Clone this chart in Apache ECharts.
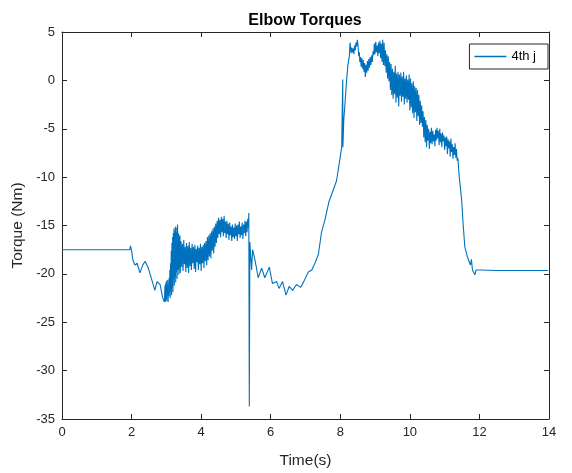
<!DOCTYPE html>
<html>
<head>
<meta charset="utf-8">
<script src="https://cdn.jsdelivr.net/npm/echarts@6/dist/echarts.min.js"></script>
<style>
  html, body { margin: 0; padding: 0; background: #fff; }
  #chart { width: 572px; height: 473px; }
</style>
</head>
<body>
<div id="chart"></div>
<script>
// Elbow joint torque (4th joint) over time, [time s, torque Nm]
const holdStart = [[0, -17.5], [0.5, -17.5], [1.0, -17.5], [1.5, -17.5], [1.95, -17.5]];

const firstDip = [
  [1.97, -17.1], [2.0, -17.6], [2.04, -18.6], [2.10, -19.1], [2.16, -18.9], [2.24, -19.9],
  [2.32, -19.1], [2.39, -18.7], [2.48, -19.4], [2.58, -20.6], [2.67, -21.7], [2.73, -20.8],
  [2.82, -21.1], [2.89, -22.4], [2.94, -22.9]
];

const firstLift = [
  [2.95, -22.4], [2.96, -21.2], [2.97, -22.9], [2.98, -21.0], [2.99, -22.6], [3.00, -20.7],
  [3.01, -22.8], [3.02, -21.3], [3.03, -22.1], [3.04, -20.6], [3.05, -22.9], [3.06, -21.5],
  [3.07, -22.3], [3.08, -20.4], [3.09, -22.0], [3.10, -19.6], [3.11, -22.5], [3.12, -18.9],
  [3.13, -21.8], [3.14, -17.6], [3.15, -22.2], [3.16, -16.8], [3.17, -21.4], [3.18, -16.2],
  [3.19, -21.9], [3.20, -15.8], [3.21, -20.6], [3.22, -15.3], [3.23, -21.2], [3.24, -15.6],
  [3.25, -20.3], [3.26, -15.1], [3.27, -20.9], [3.28, -15.7], [3.29, -19.8], [3.30, -15.2],
  [3.31, -20.5], [3.32, -14.9], [3.33, -14.7], [3.34, -19.6], [3.35, -15.8], [3.36, -20.1],
  [3.37, -16.2], [3.38, -19.4], [3.39, -16.0], [3.40, -19.9], [3.42, -16.6], [3.44, -19.3],
  [3.46, -16.9], [3.48, -19.7], [3.50, -16.5], [3.52, -19.0], [3.54, -17.2], [3.56, -19.8],
  [3.58, -16.8], [3.60, -19.4], [3.62, -17.1], [3.64, -19.9], [3.66, -16.7], [3.68, -19.2],
  [3.70, -17.3], [3.72, -19.6], [3.74, -16.9], [3.76, -18.9], [3.78, -17.2], [3.80, -19.5],
  [3.82, -17.0], [3.84, -19.8], [3.86, -17.4], [3.88, -18.8], [3.90, -17.1], [3.92, -19.6],
  [3.94, -17.3], [3.96, -19.0], [3.98, -16.9], [4.00, -19.7], [4.02, -17.2], [4.04, -18.9],
  [4.06, -17.0], [4.08, -19.4], [4.10, -16.8], [4.12, -18.7], [4.14, -16.6], [4.16, -19.1],
  [4.18, -16.2], [4.20, -18.6], [4.22, -16.0], [4.24, -18.2], [4.26, -15.8], [4.28, -18.4],
  [4.30, -15.6], [4.32, -17.6], [4.34, -15.3], [4.36, -17.9], [4.38, -15.1], [4.40, -17.2],
  [4.42, -14.8], [4.44, -16.8], [4.46, -14.5], [4.48, -16.3], [4.50, -14.2], [4.52, -15.9],
  [4.54, -14.4], [4.56, -16.2], [4.58, -14.1], [4.60, -15.7], [4.62, -14.3], [4.64, -16.1],
  [4.66, -14.0], [4.68, -15.8], [4.70, -14.6], [4.72, -16.3], [4.74, -14.5], [4.76, -15.9],
  [4.78, -14.8], [4.80, -16.5], [4.82, -14.7], [4.84, -16.0], [4.86, -15.1], [4.88, -16.6],
  [4.90, -14.9], [4.92, -16.2], [4.94, -15.2], [4.96, -16.4], [4.98, -14.8], [5.00, -16.1],
  [5.02, -15.0], [5.04, -16.6], [5.06, -14.9], [5.08, -15.9], [5.10, -14.6], [5.12, -16.3],
  [5.14, -15.1], [5.16, -16.0], [5.18, -14.7], [5.20, -16.4], [5.22, -14.9], [5.24, -15.8],
  [5.26, -14.5], [5.28, -16.1], [5.30, -14.6], [5.32, -15.7], [5.34, -14.3], [5.36, -15.2],
  [5.37, -13.7]
];

const impactSpike = [[5.385, -33.7], [5.40, -16.7]];

const recovery = [
  [5.45, -19.6], [5.48, -17.5], [5.55, -18.6], [5.64, -20.4], [5.74, -19.4], [5.83, -20.4],
  [5.96, -19.3], [6.05, -21.0], [6.17, -20.8], [6.24, -21.5], [6.34, -20.8], [6.44, -22.2],
  [6.53, -21.3], [6.63, -21.7], [6.74, -21.1], [6.86, -21.4], [6.95, -20.8], [7.08, -19.8],
  [7.18, -19.6], [7.27, -18.9], [7.37, -18.0], [7.46, -15.7], [7.56, -14.4], [7.67, -12.6],
  [7.80, -11.3], [7.89, -10.4], [7.94, -9.3], [8.04, -6.9]
];

const secondLift = [
  [8.07, 0.1], [8.075, -6.9], [8.10, -4.1], [8.13, -2.7], [8.18, 0.0], [8.22, 1.6],
  [8.26, 2.5], [8.28, 3.9], [8.30, 3.3], [8.31, 2.8], [8.33, 3.4], [8.35, 2.9],
  [8.37, 3.3], [8.39, 2.7], [8.41, 3.6], [8.43, 3.1], [8.45, 3.9], [8.47, 3.5],
  [8.49, 4.2], [8.51, 3.6], [8.53, 2.5], [8.55, 2.9], [8.56, 1.9], [8.58, 2.4],
  [8.60, 1.4], [8.62, 2.3], [8.64, 1.2], [8.66, 2.1], [8.68, 0.9], [8.70, 1.8],
  [8.72, 0.35], [8.74, 1.6], [8.76, 0.8], [8.78, 2.0], [8.80, 1.0], [8.82, 2.2],
  [8.84, 1.3], [8.86, 2.4], [8.88, 1.6], [8.90, 2.6], [8.92, 1.9], [8.94, 3.0],
  [8.96, 2.6], [8.98, 3.8], [9.00, 2.7], [9.02, 4.0], [9.04, 2.9], [9.06, 3.6],
  [9.08, 2.5], [9.10, 3.9], [9.12, 2.8], [9.14, 4.1], [9.16, 2.3], [9.18, 3.8],
  [9.20, 1.9], [9.22, 4.2], [9.24, 1.6], [9.26, 3.9], [9.28, 1.5], [9.30, 3.1],
  [9.32, 0.8], [9.34, 2.7], [9.36, 0.2], [9.38, 2.5], [9.40, -0.1], [9.42, 1.9]
];

const release = [
  [9.44, -1.0], [9.46, 1.7], [9.48, -1.5], [9.50, 1.2], [9.52, -1.9], [9.54, 0.9],
  [9.56, -1.4], [9.58, 1.5], [9.60, -2.3], [9.62, 0.7], [9.64, -1.8], [9.66, 0.9],
  [9.68, -2.7], [9.70, 0.6], [9.72, -1.6], [9.74, 0.8], [9.76, -2.2], [9.78, 0.4],
  [9.80, -1.7], [9.82, 0.9], [9.84, -2.5], [9.86, 0.2], [9.88, -1.9], [9.90, 0.5],
  [9.92, -2.3], [9.94, 0.1], [9.96, -2.0], [9.98, 0.6], [10.00, -3.1], [10.02, 0.2],
  [10.04, -2.8], [10.06, -0.3], [10.08, -3.4], [10.10, -0.1], [10.12, -3.9], [10.14, -0.6],
  [10.16, -3.3], [10.18, -0.8], [10.20, -4.2], [10.22, -1.0], [10.24, -3.7], [10.26, -1.5],
  [10.28, -4.6], [10.30, -2.1], [10.32, -4.4], [10.34, -2.6], [10.36, -4.8], [10.38, -3.2],
  [10.40, -5.9], [10.42, -3.8], [10.44, -6.4], [10.46, -4.1], [10.48, -6.9], [10.50, -4.6],
  [10.52, -6.2], [10.54, -5.0], [10.56, -7.1], [10.58, -5.3], [10.60, -6.5], [10.62, -4.9],
  [10.64, -6.6], [10.66, -5.2], [10.68, -6.3], [10.70, -5.6], [10.72, -6.8], [10.74, -5.1],
  [10.76, -6.2], [10.78, -4.9], [10.80, -6.0], [10.82, -5.2], [10.84, -6.7], [10.86, -5.0],
  [10.88, -6.4], [10.90, -5.5], [10.92, -6.9], [10.94, -5.4], [10.96, -6.3], [10.98, -5.7],
  [11.00, -7.2], [11.02, -5.9], [11.04, -6.8], [11.06, -5.8], [11.08, -7.6], [11.10, -6.1],
  [11.12, -7.0], [11.14, -6.3], [11.16, -7.9], [11.18, -6.0], [11.20, -7.4], [11.22, -6.6],
  [11.24, -8.1], [11.26, -6.9], [11.28, -7.7], [11.30, -6.5], [11.32, -8.0], [11.34, -7.1],
  [11.36, -8.3], [11.38, -8.0], [11.42, -10.0], [11.49, -12.4], [11.53, -14.8], [11.58, -17.2],
  [11.65, -18.2], [11.70, -18.7], [11.74, -19.1], [11.77, -18.5], [11.80, -19.6], [11.84, -19.4],
  [11.87, -20.1], [11.90, -19.6], [11.94, -19.4], [12.01, -19.6]
];

const holdEnd = [[12.5, -19.65], [13.0, -19.65], [13.5, -19.65], [13.97, -19.65]];

const seriesName = '4th j';
const xTicks = { min: 0, max: 14, step: 2 };
const yTicks = { min: -35, max: 5, step: 5 };

const torque = [].concat(holdStart, firstDip, firstLift, impactSpike, recovery, secondLift, release, holdEnd);

const ink = '#262626';
const lineBlue = '#0072BD';
const font = 'Liberation Sans, Arial, Helvetica, sans-serif';

const chart = echarts.init(document.getElementById('chart'), null, { renderer: 'canvas' });

const baseTick = { show: true, inside: true, length: 5, lineStyle: { color: ink, width: 1 } };
const baseLine = { show: true, onZero: false, lineStyle: { color: ink, width: 1 } };

chart.setOption({
  animation: false,
  backgroundColor: '#ffffff',
  title: {
    text: 'Elbow Torques',
    left: 300, top: 8, textAlign: 'center',
    textStyle: { fontFamily: font, fontSize: 16, fontWeight: 'bold', color: '#000' }
  },
  legend: {
    data: [{ name: seriesName, icon: 'rect' }],
    right: 24, top: 44,
    orient: 'vertical',
    backgroundColor: '#fff',
    borderColor: ink, borderWidth: 1,
    padding: [6, 12, 6, 5],
    itemWidth: 32, itemHeight: 1.5, itemGap: 4,
    itemStyle: { color: lineBlue, borderWidth: 0 },
    textStyle: { fontFamily: font, fontSize: 13, color: '#000' }
  },
  grid: { left: 62, right: 23, top: 32, bottom: 54, containLabel: false, outerBoundsMode: 'none' },
  xAxis: [
    {
      type: 'value', position: 'bottom',
      min: xTicks.min, max: xTicks.max, interval: xTicks.step,
      name: 'Time(s)', nameLocation: 'middle', nameGap: 34,
      nameTextStyle: { fontFamily: font, fontSize: 15.5, color: ink },
      axisLine: baseLine, axisTick: baseTick,
      axisLabel: { fontFamily: font, fontSize: 13, color: ink, margin: 7 },
      splitLine: { show: false }
    },
    {
      type: 'value', position: 'top',
      min: xTicks.min, max: xTicks.max, interval: xTicks.step,
      axisLine: baseLine, axisTick: baseTick,
      axisLabel: { show: false }, splitLine: { show: false }
    }
  ],
  yAxis: [
    {
      type: 'value', position: 'left',
      min: yTicks.min, max: yTicks.max, interval: yTicks.step,
      name: 'Torque (Nm)', nameLocation: 'middle', nameGap: 35, nameRotate: 90,
      nameTextStyle: { fontFamily: font, fontSize: 15.5, color: ink },
      axisLine: baseLine, axisTick: baseTick,
      axisLabel: { fontFamily: font, fontSize: 13, color: ink, margin: 7 },
      splitLine: { show: false }
    },
    {
      type: 'value', position: 'right',
      min: yTicks.min, max: yTicks.max, interval: yTicks.step,
      axisLine: baseLine, axisTick: baseTick,
      axisLabel: { show: false }, splitLine: { show: false }
    }
  ],
  series: [
    {
      name: seriesName,
      type: 'line',
      xAxisIndex: 0, yAxisIndex: 0,
      data: torque,
      symbol: 'none',
      smooth: false,
      lineStyle: { color: lineBlue, width: 1.1 },
      itemStyle: { color: lineBlue }
    }
  ]
});
</script>
</body>
</html>
